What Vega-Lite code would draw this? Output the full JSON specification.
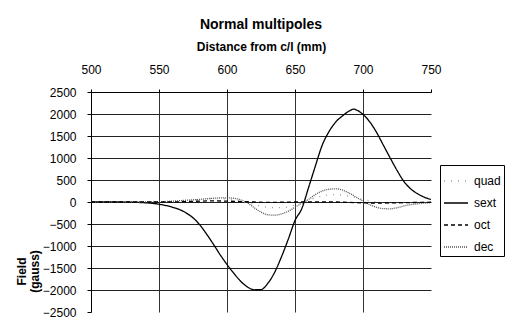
{
  "$schema": "https://vega.github.io/schema/vega-lite/v6.json",
  "width": 340,
  "height": 220,
  "autosize": {"type": "none"},
  "padding": {"left": 91, "top": 92, "right": 76, "bottom": 15},
  "background": "white",
  "config": {
    "view": {"stroke": null},
    "font": "Liberation Sans",
    "axis": {"labelFont": "Liberation Sans", "titleFont": "Liberation Sans", "labelColor": "black", "titleColor": "black", "domainColor": "black", "tickColor": "black", "labelFontSize": 12, "titleFontSize": 12, "titleFontWeight": "bold", "format": "d"}
  },
  "title": {"text": "Normal multipoles", "fontSize": 14, "fontWeight": "bold", "anchor": "middle", "color": "black", "font": "Liberation Sans", "offset": 8},
  "data": {"values": [
    {"x": 500, "series": "sext", "field": 0}, {"x": 510, "series": "sext", "field": 0}, {"x": 520, "series": "sext", "field": 0}, {"x": 530, "series": "sext", "field": -5}, {"x": 540, "series": "sext", "field": -18}, {"x": 545, "series": "sext", "field": -30}, {"x": 550, "series": "sext", "field": -50}, {"x": 555, "series": "sext", "field": -80}, {"x": 560, "series": "sext", "field": -120}, {"x": 565, "series": "sext", "field": -170}, {"x": 570, "series": "sext", "field": -250}, {"x": 575, "series": "sext", "field": -360}, {"x": 580, "series": "sext", "field": -520}, {"x": 585, "series": "sext", "field": -730}, {"x": 590, "series": "sext", "field": -960}, {"x": 595, "series": "sext", "field": -1200}, {"x": 600, "series": "sext", "field": -1420}, {"x": 605, "series": "sext", "field": -1620}, {"x": 610, "series": "sext", "field": -1800}, {"x": 615, "series": "sext", "field": -1930}, {"x": 620, "series": "sext", "field": -1995}, {"x": 625, "series": "sext", "field": -1990}, {"x": 630, "series": "sext", "field": -1850}, {"x": 635, "series": "sext", "field": -1600}, {"x": 640, "series": "sext", "field": -1250}, {"x": 645, "series": "sext", "field": -850}, {"x": 650, "series": "sext", "field": -420}, {"x": 655, "series": "sext", "field": -150}, {"x": 660, "series": "sext", "field": 330}, {"x": 665, "series": "sext", "field": 820}, {"x": 670, "series": "sext", "field": 1290}, {"x": 675, "series": "sext", "field": 1600}, {"x": 680, "series": "sext", "field": 1820}, {"x": 685, "series": "sext", "field": 1960}, {"x": 690, "series": "sext", "field": 2070}, {"x": 693, "series": "sext", "field": 2110}, {"x": 696, "series": "sext", "field": 2080}, {"x": 700, "series": "sext", "field": 1990}, {"x": 705, "series": "sext", "field": 1820}, {"x": 710, "series": "sext", "field": 1580}, {"x": 715, "series": "sext", "field": 1290}, {"x": 720, "series": "sext", "field": 1000}, {"x": 725, "series": "sext", "field": 720}, {"x": 730, "series": "sext", "field": 470}, {"x": 735, "series": "sext", "field": 300}, {"x": 740, "series": "sext", "field": 190}, {"x": 745, "series": "sext", "field": 110}, {"x": 750, "series": "sext", "field": 60},
    {"x": 500, "series": "dec", "field": 0}, {"x": 520, "series": "dec", "field": 0}, {"x": 540, "series": "dec", "field": 0}, {"x": 550, "series": "dec", "field": 5}, {"x": 560, "series": "dec", "field": 20}, {"x": 570, "series": "dec", "field": 40}, {"x": 580, "series": "dec", "field": 60}, {"x": 590, "series": "dec", "field": 85}, {"x": 600, "series": "dec", "field": 95}, {"x": 605, "series": "dec", "field": 85}, {"x": 610, "series": "dec", "field": 50}, {"x": 615, "series": "dec", "field": -20}, {"x": 620, "series": "dec", "field": -130}, {"x": 625, "series": "dec", "field": -230}, {"x": 630, "series": "dec", "field": -290}, {"x": 635, "series": "dec", "field": -300}, {"x": 640, "series": "dec", "field": -270}, {"x": 645, "series": "dec", "field": -210}, {"x": 650, "series": "dec", "field": -120}, {"x": 655, "series": "dec", "field": -30}, {"x": 660, "series": "dec", "field": 60}, {"x": 665, "series": "dec", "field": 170}, {"x": 670, "series": "dec", "field": 250}, {"x": 675, "series": "dec", "field": 290}, {"x": 680, "series": "dec", "field": 300}, {"x": 685, "series": "dec", "field": 270}, {"x": 690, "series": "dec", "field": 200}, {"x": 695, "series": "dec", "field": 110}, {"x": 700, "series": "dec", "field": 20}, {"x": 705, "series": "dec", "field": -60}, {"x": 710, "series": "dec", "field": -120}, {"x": 715, "series": "dec", "field": -150}, {"x": 720, "series": "dec", "field": -155}, {"x": 725, "series": "dec", "field": -130}, {"x": 730, "series": "dec", "field": -90}, {"x": 735, "series": "dec", "field": -60}, {"x": 740, "series": "dec", "field": -40}, {"x": 745, "series": "dec", "field": -25}, {"x": 750, "series": "dec", "field": -20},
    {"x": 500, "series": "quad", "field": 0}, {"x": 520, "series": "quad", "field": 0}, {"x": 540, "series": "quad", "field": 0}, {"x": 550, "series": "quad", "field": 0}, {"x": 560, "series": "quad", "field": 10}, {"x": 570, "series": "quad", "field": 30}, {"x": 580, "series": "quad", "field": 60}, {"x": 590, "series": "quad", "field": 80}, {"x": 600, "series": "quad", "field": 70}, {"x": 610, "series": "quad", "field": 20}, {"x": 620, "series": "quad", "field": -60}, {"x": 630, "series": "quad", "field": -120}, {"x": 640, "series": "quad", "field": -130}, {"x": 650, "series": "quad", "field": -70}, {"x": 660, "series": "quad", "field": 40}, {"x": 670, "series": "quad", "field": 140}, {"x": 680, "series": "quad", "field": 170}, {"x": 690, "series": "quad", "field": 130}, {"x": 700, "series": "quad", "field": 60}, {"x": 710, "series": "quad", "field": 0}, {"x": 720, "series": "quad", "field": -30}, {"x": 730, "series": "quad", "field": -20}, {"x": 740, "series": "quad", "field": -10}, {"x": 750, "series": "quad", "field": 0},
    {"x": 500, "series": "oct", "field": 0}, {"x": 520, "series": "oct", "field": 0}, {"x": 540, "series": "oct", "field": 0}, {"x": 560, "series": "oct", "field": 0}, {"x": 570, "series": "oct", "field": 10}, {"x": 580, "series": "oct", "field": 20}, {"x": 590, "series": "oct", "field": 25}, {"x": 600, "series": "oct", "field": 20}, {"x": 610, "series": "oct", "field": 10}, {"x": 620, "series": "oct", "field": 0}, {"x": 630, "series": "oct", "field": -10}, {"x": 640, "series": "oct", "field": -5}, {"x": 650, "series": "oct", "field": 0}, {"x": 660, "series": "oct", "field": 5}, {"x": 670, "series": "oct", "field": 5}, {"x": 680, "series": "oct", "field": 0}, {"x": 690, "series": "oct", "field": -10}, {"x": 700, "series": "oct", "field": -20}, {"x": 710, "series": "oct", "field": -25}, {"x": 720, "series": "oct", "field": -20}, {"x": 730, "series": "oct", "field": -15}, {"x": 740, "series": "oct", "field": -10}, {"x": 750, "series": "oct", "field": -5}
  ]},
  "mark": {"type": "line", "strokeWidth": 1.3, "interpolate": "monotone"},
  "encoding": {
    "x": {
      "field": "x", "type": "quantitative",
      "scale": {"domain": [500, 750], "nice": false, "zero": false},
      "axis": {
        "orient": "top", "values": [500, 550, 600, 650, 700, 750],
        "title": "Distance from c/l (mm)", "titlePadding": 10,
        "tickSize": 3, "labelPadding": 13, "labelFlush": false,
        "grid": true, "gridColor": "#333", "gridWidth": 1,
        "gridOpacity": {"condition": {"test": "datum.value == 750 || datum.value == 500", "value": 0}, "value": 1}
      }
    },
    "y": {
      "field": "field", "type": "quantitative",
      "scale": {"domain": [-2500, 2500], "nice": false},
      "axis": {
        "values": [-2500, -2000, -1500, -1000, -500, 0, 500, 1000, 1500, 2000, 2500],
        "title": ["Field", "(gauss)"], "titleX": -75, "titleY": 179, "titleAngle": -90,
        "titleAlign": "center", "titleBaseline": "top", "titleLineHeight": 13,
        "tickSize": 4, "labelPadding": 11, "labelFlush": false,
        "grid": true, "gridColor": "#222", "gridWidth": 1,
        "gridOpacity": {"condition": {"test": "datum.value == -2500", "value": 0}, "value": 1}
      }
    },
    "color": {
      "field": "series", "type": "nominal",
      "scale": {"domain": ["quad", "sext", "oct", "dec"], "range": ["#9a9a9a", "#000000", "#000000", "#555555"]},
      "legend": {"title": null, "orient": "none", "legendX": 349, "legendY": 73, "strokeColor": "black", "fillColor": "white", "padding": 3, "symbolType": "stroke", "symbolSize": 576, "symbolStrokeWidth": 1.5, "labelFontSize": 12, "labelFont": "Liberation Sans", "labelColor": "black", "labelOffset": 5, "rowPadding": 3, "cornerRadius": 0}
    },
    "strokeDash": {
      "field": "series", "type": "nominal",
      "scale": {"domain": ["quad", "sext", "oct", "dec"], "range": [[1, 6], [1, 0], [4, 3], [1, 1]]},
      "legend": {"title": null, "orient": "none", "legendX": 349, "legendY": 73, "strokeColor": "black", "fillColor": "white", "padding": 3, "symbolType": "stroke", "symbolSize": 576, "symbolStrokeWidth": 1.5, "labelFontSize": 12, "labelFont": "Liberation Sans", "labelColor": "black", "labelOffset": 5, "rowPadding": 3, "cornerRadius": 0}
    }
  }
}
